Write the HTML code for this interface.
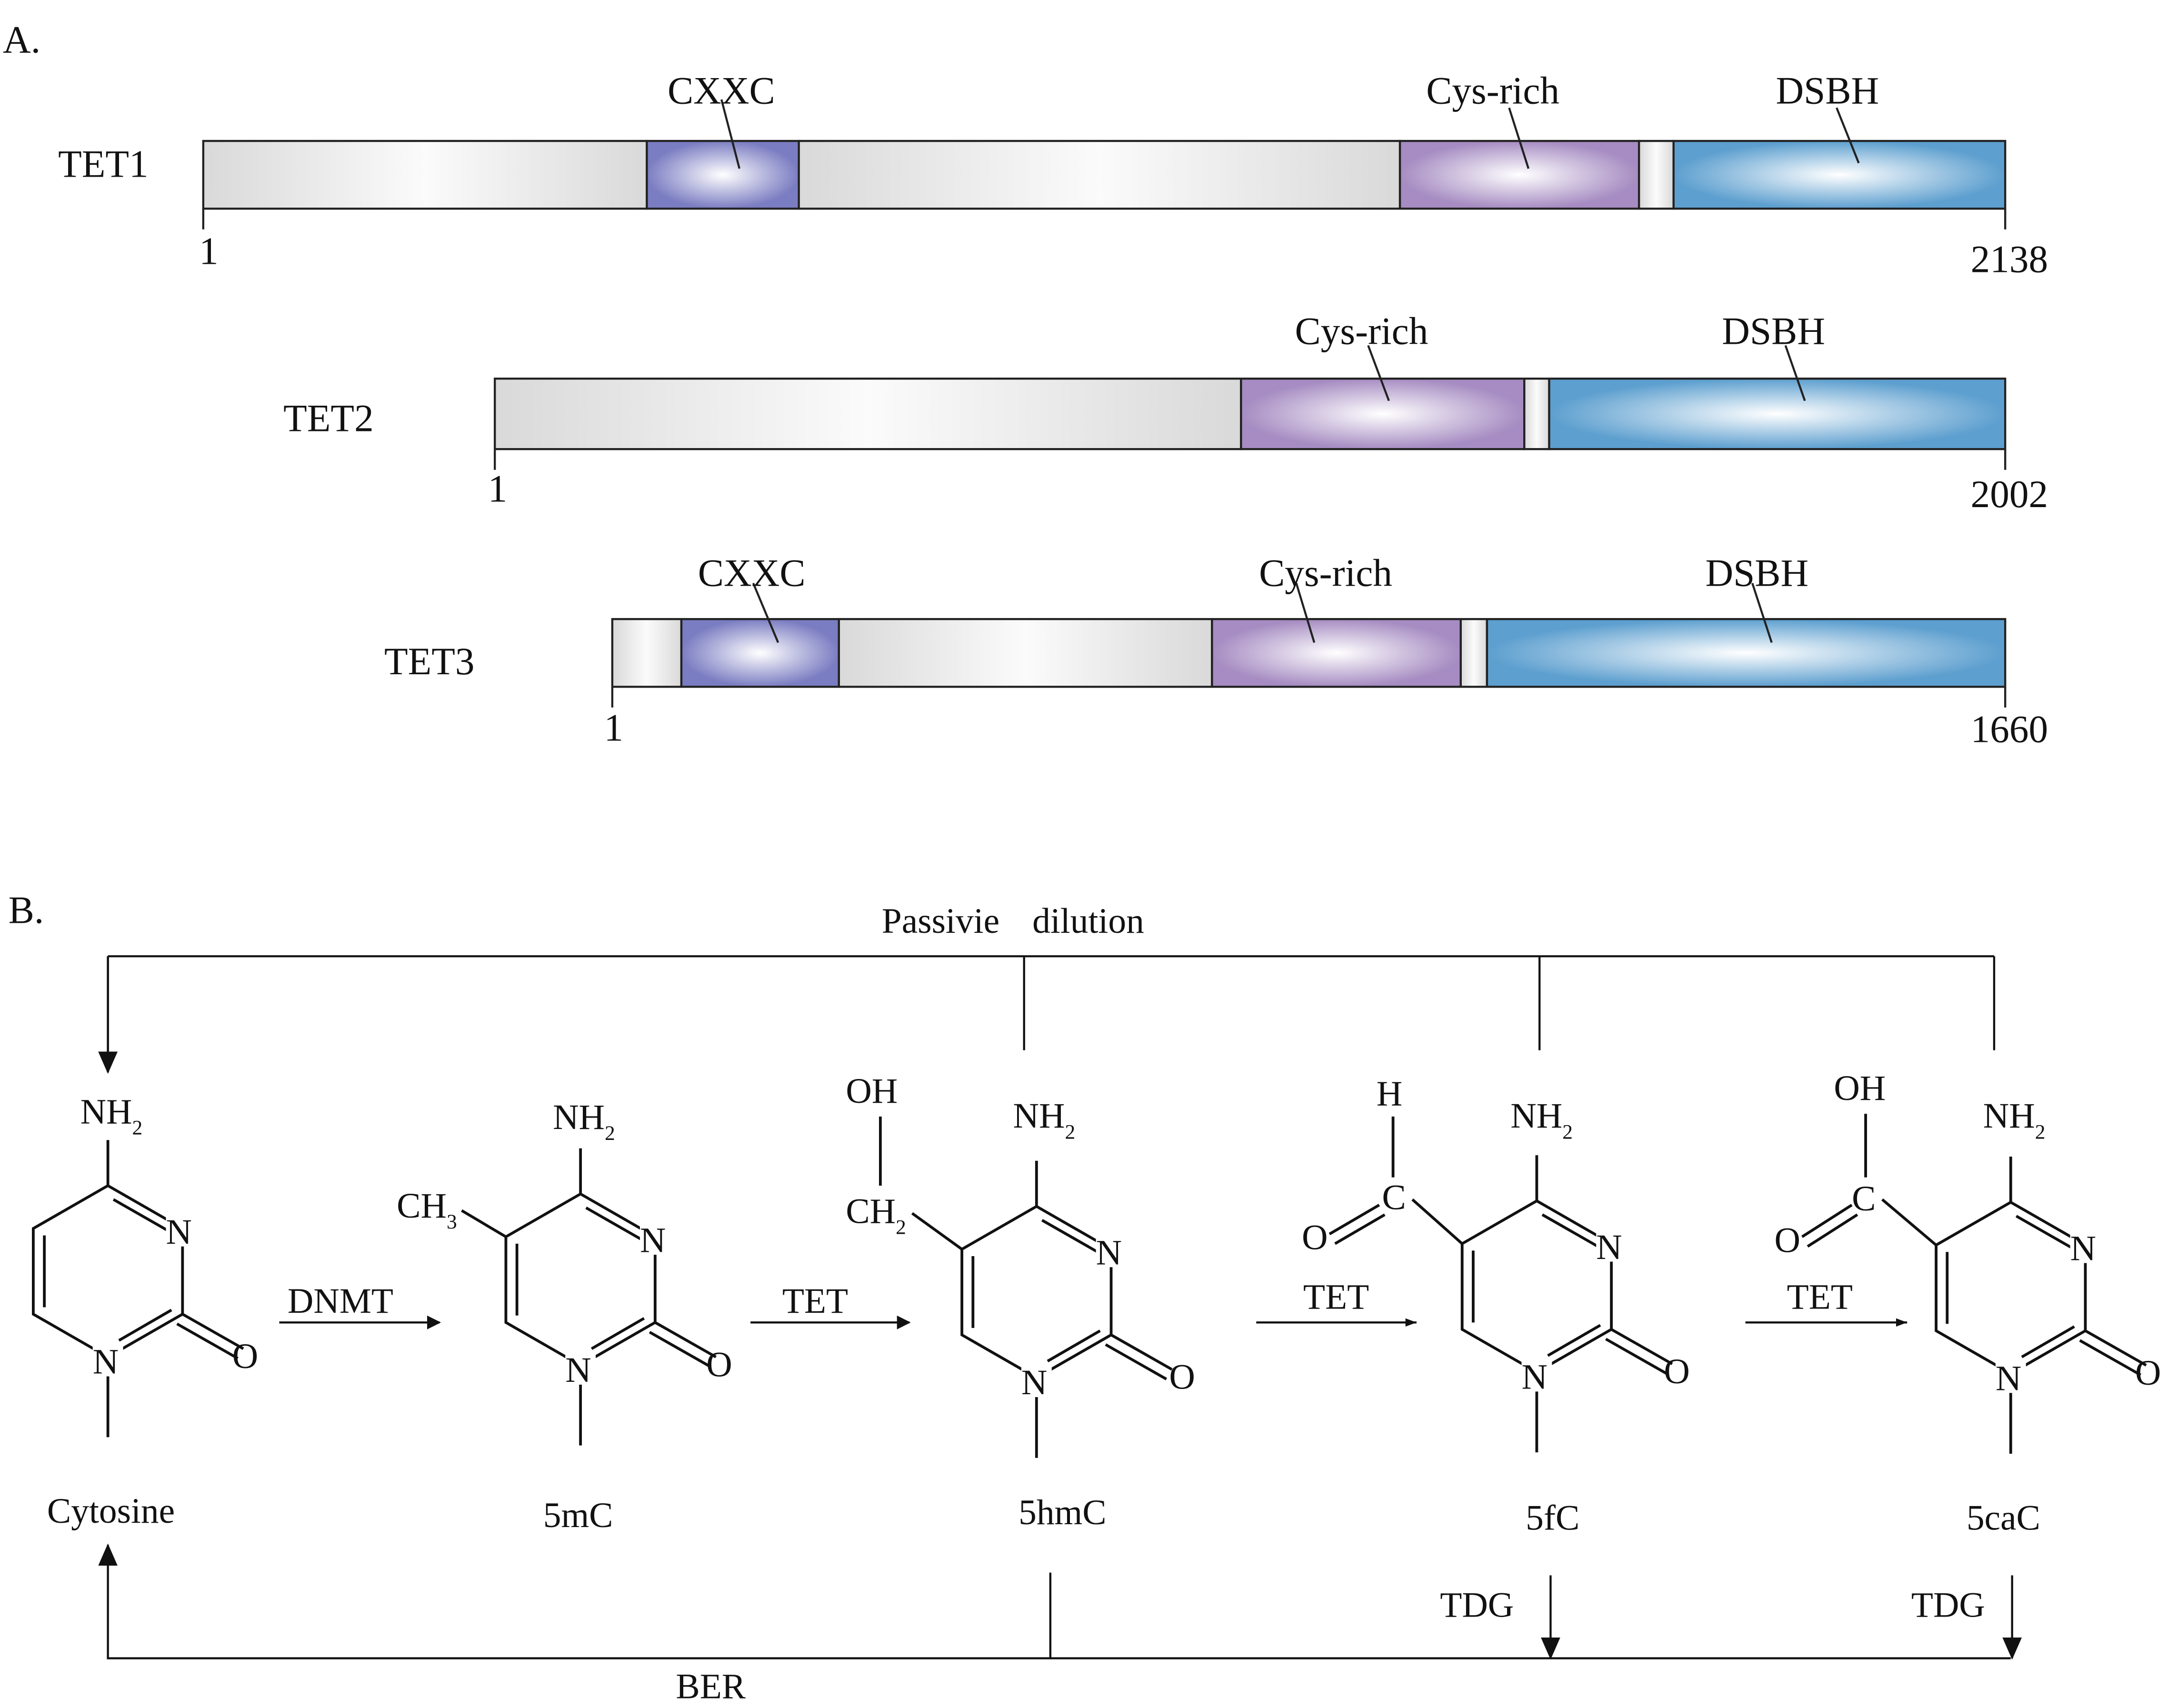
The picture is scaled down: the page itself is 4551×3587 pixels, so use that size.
<!DOCTYPE html>
<html><head><meta charset="utf-8"><style>html,body{margin:0;padding:0;background:#fff}svg{display:block}text{font-family:"Liberation Serif",serif;fill:#111}</style></head><body>
<svg width="4551" height="3587" viewBox="0 0 1568 1236" xmlns="http://www.w3.org/2000/svg">
<defs>
<linearGradient id="g" x1="0" x2="1" y1="0" y2="0"><stop offset="0" stop-color="#d9d9d9"/><stop offset=".5" stop-color="#fbfbfb"/><stop offset="1" stop-color="#d9d9d9"/></linearGradient>
<radialGradient id="cx"><stop offset="0" stop-color="#fff"/><stop offset="1" stop-color="#7b7dc2"/></radialGradient>
<radialGradient id="cy"><stop offset="0" stop-color="#fff"/><stop offset="1" stop-color="#a68cc2"/></radialGradient>
<radialGradient id="ds"><stop offset="0" stop-color="#fff"/><stop offset="1" stop-color="#5d9fcf"/></radialGradient>
<g id="ring" stroke="#111" stroke-width="2" fill="none">
<path d="M0,-62 L54,-31 L54,31 L0,62 L-54,31 L-54,-31 Z"/>
<path d="M4,-52 L46,-28 M-46,-26 L-46,26 M8,50 L46,28"/>
<path d="M54,31 L98,56 M50,38 L94,63"/>
<path d="M0,-62 L0,-95 M0,62 L0,120"/>
</g>
<marker id="ah" markerWidth="10" markerHeight="10" refX="9" refY="5" orient="auto" markerUnits="userSpaceOnUse"><path d="M0,0 L10,5 L0,10 Z" fill="#111"/></marker>
<marker id="ahs" markerWidth="8" markerHeight="8" refX="8" refY="4" orient="auto" markerUnits="userSpaceOnUse"><path d="M0,1 L8,4 L0,7 Z" fill="#111"/></marker>
<marker id="ahb" markerWidth="16" markerHeight="16" refX="15" refY="8" orient="auto" markerUnits="userSpaceOnUse"><path d="M0,1 L16,8 L0,15 Z" fill="#111"/></marker>
</defs>
<g font-size="28">
<text x="2" y="38">A.</text>
<text x="6" y="668">B.</text>
</g>
<g stroke="#222" stroke-width="1.5">
<rect x="147" y="102" width="321" height="49" fill="url(#g)"/>
<rect x="468" y="102" width="110" height="49" fill="url(#cx)"/>
<rect x="578" y="102" width="435" height="49" fill="url(#g)"/>
<rect x="1013" y="102" width="173" height="49" fill="url(#cy)"/>
<rect x="1186" y="102" width="25" height="49" fill="url(#g)"/>
<rect x="1211" y="102" width="240" height="49" fill="url(#ds)"/>
<rect x="358" y="274" width="540" height="51" fill="url(#g)"/>
<rect x="898" y="274" width="205" height="51" fill="url(#cy)"/>
<rect x="1103" y="274" width="18" height="51" fill="url(#g)"/>
<rect x="1121" y="274" width="330" height="51" fill="url(#ds)"/>
<rect x="443" y="448" width="50" height="49" fill="url(#g)"/>
<rect x="493" y="448" width="114" height="49" fill="url(#cx)"/>
<rect x="607" y="448" width="270" height="49" fill="url(#g)"/>
<rect x="877" y="448" width="180" height="49" fill="url(#cy)"/>
<rect x="1057" y="448" width="19" height="49" fill="url(#g)"/>
<rect x="1076" y="448" width="375" height="49" fill="url(#ds)"/>
<path fill="none" d="M147,151 V166 M1451,151 V166 M358,325 V340 M1451,325 V340 M443,497 V512 M1451,497 V512"/>
<path fill="none" d="M522,72 L535,122 M1092,78 L1106,122 M1329,78 L1345,118 M990,250 L1005,290 M1292,250 L1306,290 M545,422 L563,465 M938,422 L951,465 M1268,422 L1282,465"/>
</g>
<g font-size="28">
<text x="42" y="128">TET1</text><text x="205" y="312">TET2</text><text x="278" y="488">TET3</text>
<text x="483" y="75">CXXC</text><text x="1032" y="75">Cys-rich</text><text x="1285" y="75">DSBH</text>
<text x="937" y="249">Cys-rich</text><text x="1246" y="249">DSBH</text>
<text x="505" y="424">CXXC</text><text x="911" y="424">Cys-rich</text><text x="1234" y="424">DSBH</text>
<text x="144" y="191">1</text><text x="1426" y="197">2138</text>
<text x="353" y="363">1</text><text x="1426" y="367">2002</text>
<text x="437" y="536">1</text><text x="1426" y="537">1660</text>
</g>
<!-- pathway lines -->
<g stroke="#111" stroke-width="1.5" fill="none">
<path d="M741,760 V692 M1114,760 V692 M1443,760 V692 M78,692 H1443 M78,692 V776" marker-end="url(#ahb)"/>
<path d="M78,692 V776" marker-end="url(#ahb)"/>
<path d="M760,1138 V1200 H78 V1118" marker-end="url(#ahb)"/>
<path d="M760,1200 H1455"/>
<path d="M1122,1140 V1200" marker-end="url(#ahb)"/>
<path d="M1456,1140 V1200" marker-end="url(#ahb)"/>
<path d="M202,957 H318" marker-end="url(#ah)"/>
<path d="M543,957 H658" marker-end="url(#ah)"/>
<path d="M909,957 H1025" marker-end="url(#ahs)"/>
<path d="M1263,957 H1380" marker-end="url(#ahs)"/>
</g>
<g font-size="26">
<text x="638" y="675">Passivie</text><text x="747" y="675">dilution</text>
<text x="208" y="950">DNMT</text><text x="566" y="950">TET</text><text x="943" y="947">TET</text><text x="1293" y="947">TET</text>
<text x="1042" y="1170">TDG</text><text x="1383" y="1170">TDG</text><text x="489" y="1229">BER</text>
<text x="34" y="1102">Cytosine</text><text x="393" y="1105">5mC</text><text x="737" y="1103">5hmC</text><text x="1104" y="1107">5fC</text><text x="1423" y="1107">5caC</text>
</g>
<!-- molecules -->
<g font-size="26">
<use href="#ring" x="78" y="920"/>
<use href="#ring" x="420" y="926"/>
<use href="#ring" x="750" y="935"/>
<use href="#ring" x="1112" y="931"/>
<use href="#ring" x="1455" y="932"/>
<g fill="#fff" stroke="none">
<rect x="120" y="878" width="22" height="24"/><rect x="67" y="972" width="22" height="24"/>
<rect x="463" y="884" width="22" height="24"/><rect x="409" y="978" width="22" height="24"/>
<rect x="793" y="893" width="22" height="24"/><rect x="739" y="987" width="22" height="24"/>
<rect x="1155" y="889" width="22" height="24"/><rect x="1101" y="983" width="22" height="24"/>
<rect x="1498" y="890" width="22" height="24"/><rect x="1444" y="984" width="22" height="24"/>
</g>
<text x="120" y="900">N</text><text x="67" y="994">N</text><text x="168" y="990">O</text><text x="58" y="813">NH<tspan font-size="15" dy="8">2</tspan></text>
<text x="463" y="906">N</text><text x="409" y="1000">N</text><text x="511" y="996">O</text><text x="400" y="817">NH<tspan font-size="15" dy="8">2</tspan></text>
<text x="793" y="915">N</text><text x="739" y="1009">N</text><text x="846" y="1005">O</text><text x="733" y="816">NH<tspan font-size="15" dy="8">2</tspan></text>
<text x="1155" y="911">N</text><text x="1101" y="1005">N</text><text x="1204" y="1001">O</text><text x="1093" y="816">NH<tspan font-size="15" dy="8">2</tspan></text>
<text x="1498" y="912">N</text><text x="1444" y="1006">N</text><text x="1545" y="1002">O</text><text x="1435" y="816">NH<tspan font-size="15" dy="8">2</tspan></text>
<!-- substituents -->
<text x="287" y="881">CH<tspan font-size="15" dy="8">3</tspan></text>
<text x="612" y="885">CH<tspan font-size="15" dy="8">2</tspan></text>
<text x="612" y="798">OH</text>
<text x="996" y="800">H</text><text x="1000" y="875">C</text><text x="942" y="904">O</text>
<text x="1327" y="796">OH</text><text x="1340" y="876">C</text><text x="1284" y="906">O</text>
</g>
<g stroke="#111" stroke-width="2" fill="none">
<path d="M366,895 L334,876"/>
<path d="M696,904 L660,878 M637,808 V858"/>
<path d="M1058,900 L1022,868 M1008,808 V852 M998,872 L962,893 M1002,879 L966,900"/>
<path d="M1401,901 L1362,868 M1350,806 V852 M1340,872 L1304,895 M1344,879 L1308,902"/>
</g>
</svg>
</body></html>
